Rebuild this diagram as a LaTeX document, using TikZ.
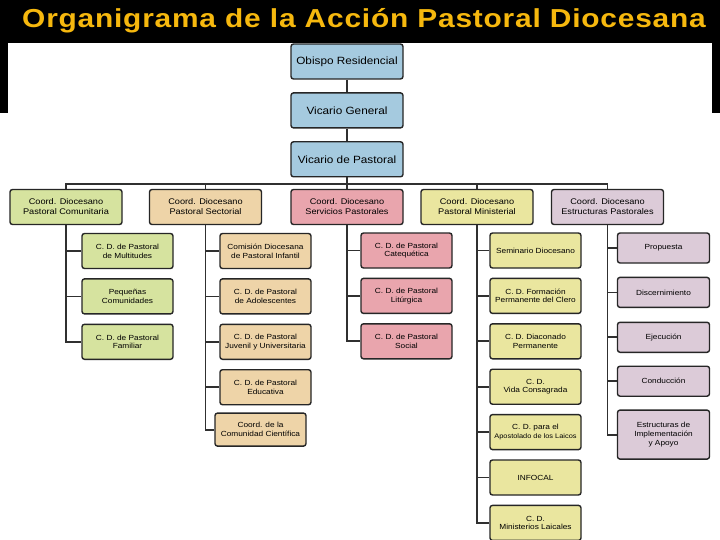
\documentclass[tikz,border=0pt]{standalone}
\usepackage{fontspec}
\setmainfont{Liberation Sans}[FakeStretch=1.12]
\newfontfamily\titlefont{Liberation Sans}[FakeStretch=1.15,LetterSpace=3]
\usepackage{xcolor}
\usepackage{tikz}
\usetikzlibrary{positioning}

\definecolor{topblue}{HTML}{A5CADF}
\definecolor{comgreen}{HTML}{D6E39F}
\definecolor{sectan}{HTML}{EED4A8}
\definecolor{servpink}{HTML}{E9A5AD}
\definecolor{minyellow}{HTML}{EAE69F}
\definecolor{estlilac}{HTML}{DCCBD8}
\definecolor{titleyellow}{HTML}{F6B80E}
\definecolor{boxline}{HTML}{262626}
\definecolor{linkgray}{HTML}{303030}

\begin{document}
\begin{tikzpicture}[
  x=1pt,y=-1pt,
  node distance=9pt and 14pt,
  box/.style={draw=boxline,line width=1.4pt,rounded corners=2.5pt,align=center,inner sep=1pt},
  head/.style={box,fill=topblue,minimum width=112pt,minimum height=35pt,font=\fontsize{10.5}{12}\selectfont},
  coord/.style={box,minimum width=112pt,minimum height=35pt,font=\fontsize{8.2}{10}\selectfont},
  sub/.style={box,minimum width=91pt,minimum height=35pt,font=\fontsize{7.4}{8.8}\selectfont},
  link/.style={draw=linkgray,line width=1.8pt}
]
\useasboundingbox (0,0) rectangle (720,540);
\fill[white] (0,0) rectangle (720,540);
\fill[black] (0,0) rectangle (720,43);
\fill[black] (0,43) rectangle (8,113);
\fill[black] (712,43) rectangle (720,113);
\node[font=\titlefont\fontsize{26}{28}\bfseries\selectfont,text=titleyellow,inner sep=0pt] (ttl) at (364,21)
  {Organigrama de la Acción Pastoral Diocesana};

% cabeza
\node[head] (ob) at (347,61.5) {Obispo Residencial};
\node[head,below=12.5pt of ob] (vg) {Vicario General};
\node[head,below=12.5pt of vg] (vp) {Vicario de Pastoral};
\coordinate (bar) at (347,184);

% coordinaciones
\node[coord,fill=comgreen] (com) at (66,207) {Coord. Diocesano\\Pastoral Comunitaria};
\node[coord,fill=sectan] (sec) at (205.5,207) {Coord. Diocesano\\Pastoral Sectorial};
\node[coord,fill=servpink] (ser) at (347,207) {Coord. Diocesano\\Servicios Pastorales};
\node[coord,fill=minyellow] (min) at (477,207) {Coord. Diocesano\\Pastoral Ministerial};
\node[coord,fill=estlilac] (est) at (607.5,207) {Coord. Diocesano\\Estructuras Pastorales};

% comunitaria
\node[sub,fill=comgreen] (mul) at (127.5,251) {C. D. de Pastoral\\de Multitudes};
\node[sub,fill=comgreen,below=of mul] (peq) {Pequeñas\\Comunidades};
\node[sub,fill=comgreen,below=of peq] (fam) {C. D. de Pastoral\\Familiar};

% sectorial
\node[sub,fill=sectan] (inf) at (265.5,251) {Comisión Diocesana\\de Pastoral Infantil};
\node[sub,fill=sectan,below=of inf] (ado) {C. D. de Pastoral\\de Adolescentes};
\node[sub,fill=sectan,below=of ado] (juv) {C. D. de Pastoral\\Juvenil y Universitaria};
\node[sub,fill=sectan,below=of juv] (edu) {C. D. de Pastoral\\Educativa};
\node[sub,fill=sectan,below=7pt of edu,xshift=-5pt,minimum height=33pt] (cie) {Coord. de la\\Comunidad Científica};

% servicios
\node[sub,fill=servpink] (cat) at (406.5,250.5) {C. D. de Pastoral\\Catequética};
\node[sub,fill=servpink,below=of cat] (lit) {C. D. de Pastoral\\Litúrgica};
\node[sub,fill=servpink,below=of lit] (soc) {C. D. de Pastoral\\Social};

% ministerial
\node[sub,fill=minyellow] (sem) at (535.5,250.5) {Seminario Diocesano};
\node[sub,fill=minyellow,below=of sem] (for) {C. D. Formación\\Permanente del Clero};
\node[sub,fill=minyellow,below=of for] (dia) {C. D. Diaconado\\Permanente};
\node[sub,fill=minyellow,below=of dia] (vid) {C. D.\\Vida Consagrada};
\node[sub,fill=minyellow,below=of vid] (apo) {C. D. para el\\{\fontsize{6.6}{8}\selectfont Apostolado de los Laicos}};
\node[sub,fill=minyellow,below=of apo] (ifc) {INFOCAL};
\node[sub,fill=minyellow,below=of ifc] (lai) {C. D.\\Ministerios Laicales};

% estructuras
\node[sub,fill=estlilac,minimum width=92pt,minimum height=30pt] (pro) at (663.5,248) {Propuesta};
\node[sub,fill=estlilac,minimum width=92pt,minimum height=30pt,below=13pt of pro] (dis) {Discernimiento};
\node[sub,fill=estlilac,minimum width=92pt,minimum height=30pt,below=13.5pt of dis] (eje) {Ejecución};
\node[sub,fill=estlilac,minimum width=92pt,minimum height=30pt,below=12.5pt of eje] (con) {Conducción};
\node[sub,fill=estlilac,minimum width=92pt,minimum height=49pt,below=12.5pt of con] (imp) {Estructuras de\\Implementación\\y Apoyo};

\draw[link] (ob) -- (vg); \draw[link] (vg) -- (vp); \draw[link] (vp) -- (bar);
\draw[link] (bar) -| (com); \draw[link] (bar) -| (sec); \draw[link] (bar) -- (ser);
\draw[link] (bar) -| (min); \draw[link] (bar) -| (est);

\draw[link] (com.south) |- (mul.west); \draw[link] (com.south) |- (peq.west);
\draw[link] (com.south) |- (fam.west);
\draw[link] (sec.south) |- (inf.west); \draw[link] (sec.south) |- (ado.west);
\draw[link] (sec.south) |- (juv.west); \draw[link] (sec.south) |- (edu.west);
\draw[link] (sec.south) |- (cie.west);
\draw[link] (ser.south) |- (cat.west); \draw[link] (ser.south) |- (lit.west);
\draw[link] (ser.south) |- (soc.west);
\draw[link] (min.south) |- (sem.west); \draw[link] (min.south) |- (for.west);
\draw[link] (min.south) |- (dia.west); \draw[link] (min.south) |- (vid.west);
\draw[link] (min.south) |- (apo.west); \draw[link] (min.south) |- (ifc.west);
\draw[link] (min.south) |- (lai.west);
\draw[link] (est.south) |- (pro.west); \draw[link] (est.south) |- (dis.west);
\draw[link] (est.south) |- (eje.west); \draw[link] (est.south) |- (con.west);
\draw[link] (est.south) |- (imp.west);
\end{tikzpicture}
\end{document}
